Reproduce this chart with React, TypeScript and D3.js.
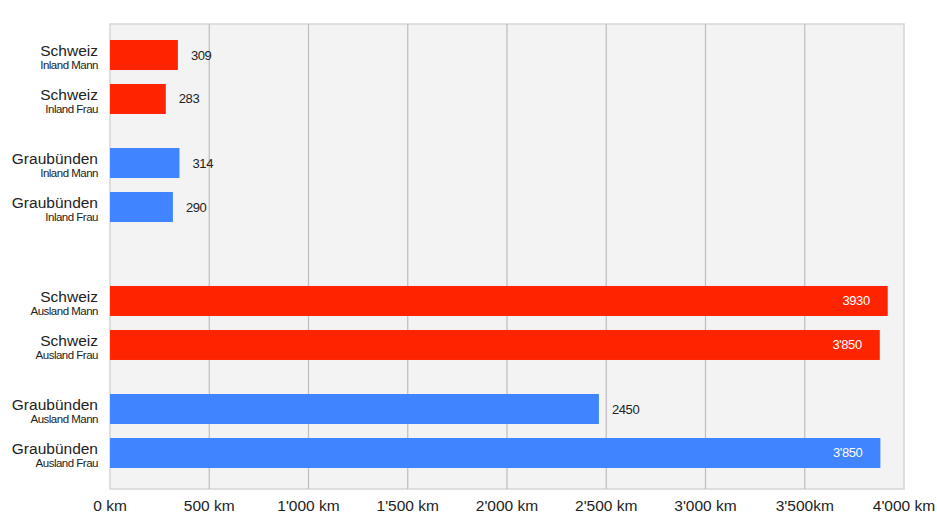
import React from "react";
import * as d3 from "d3";

// ---- data ----
const scopes = ["Inland", "Ausland"];
const regions = ["Schweiz", "Graubünden"];
const sexes = ["Mann", "Frau"];
// bar lengths in km (order: scope > region > sex)
const barValues = [342, 281, 350, 317, 3918, 3878, 2463, 3881];
// value labels as printed in the chart
const valueLabels = ["309", "283", "314", "290", "3930", "3'850", "2450", "3'850"];
const tickValues = [0, 500, 1000, 1500, 2000, 2500, 3000, 3500, 4000];
const tickLabels = ["0 km", "500 km", "1'000 km", "1'500 km", "2'000 km", "2'500 km", "3'000 km", "3'500km", "4'000 km"];

const regionColors: Record<string, string> = { Schweiz: "#ff2400", "Graubünden": "#4184ff" };

const W = 937;
const H = 514;
const plot = { left: 110, right: 904, top: 24, bottom: 489 };
const FONT = "'Liberation Sans', Arial, Helvetica, sans-serif";

export default function App() {
  const x = d3.scaleLinear().domain([0, 4000]).range([plot.left, plot.right]);
  const yScope = d3.scaleBand<string>().domain(scopes).range([40, 468]).paddingInner(0.26).paddingOuter(0);
  const yRegion = d3.scaleBand<string>().domain(regions).range([0, yScope.bandwidth()]).paddingInner(0.315).paddingOuter(0);
  const ySex = d3.scaleBand<string>().domain(sexes).range([0, yRegion.bandwidth()]).paddingInner(0.318).paddingOuter(0);

  const rows: { scope: string; region: string; sex: string; value: number; label: string; y: number }[] = [];
  let i = 0;
  for (const scope of scopes) {
    for (const region of regions) {
      for (const sex of sexes) {
        rows.push({
          scope,
          region,
          sex,
          value: barValues[i],
          label: valueLabels[i],
          y: (yScope(scope) ?? 0) + (yRegion(region) ?? 0) + (ySex(sex) ?? 0),
        });
        i++;
      }
    }
  }
  const bh = ySex.bandwidth();

  return (
    <svg width={W} height={H} style={{ position: "absolute", left: 0, top: 0, background: "#fff" }} fontFamily={FONT}>
      <rect x={plot.left} y={plot.top} width={plot.right - plot.left} height={plot.bottom - plot.top} fill="#f3f3f3" stroke="#d6d6d6" strokeWidth={1.5} />
      {tickValues.slice(1, -1).map((t) => (
        <line key={t} x1={x(t)} x2={x(t)} y1={plot.top} y2={plot.bottom} stroke="#bdbdbd" strokeWidth={1.2} />
      ))}
      {tickValues.map((t, k) => (
        <text key={t} x={x(t)} y={511} textAnchor="middle" fontSize={15.5} fill="#222">
          {tickLabels[k]}
        </text>
      ))}
      {rows.map((r, k) => {
        const cy = r.y + bh / 2;
        const inside = r.value > 3500;
        return (
          <g key={k}>
            <rect x={x(0)} y={r.y} width={x(r.value) - x(0)} height={bh} fill={regionColors[r.region]} />
            <text x={plot.left - 12} y={cy + 1} textAnchor="end" fontSize={15.5} fill="#222">
              {r.region}
            </text>
            <text x={plot.left - 12} y={cy + 14} textAnchor="end" fontSize={11.5} fill="#222" letterSpacing={-0.5}>
              {r.scope + " " + r.sex}
            </text>
            {inside ? (
              <text x={x(r.value) - 18} y={cy + 4.5} textAnchor="end" fontSize={13} fill="#fff" letterSpacing={-0.4}>
                {r.label}
              </text>
            ) : (
              <text x={x(r.value) + 13} y={cy + 4.5} textAnchor="start" fontSize={13} fill="#222" letterSpacing={-0.4}>
                {r.label}
              </text>
            )}
          </g>
        );
      })}
    </svg>
  );
}
